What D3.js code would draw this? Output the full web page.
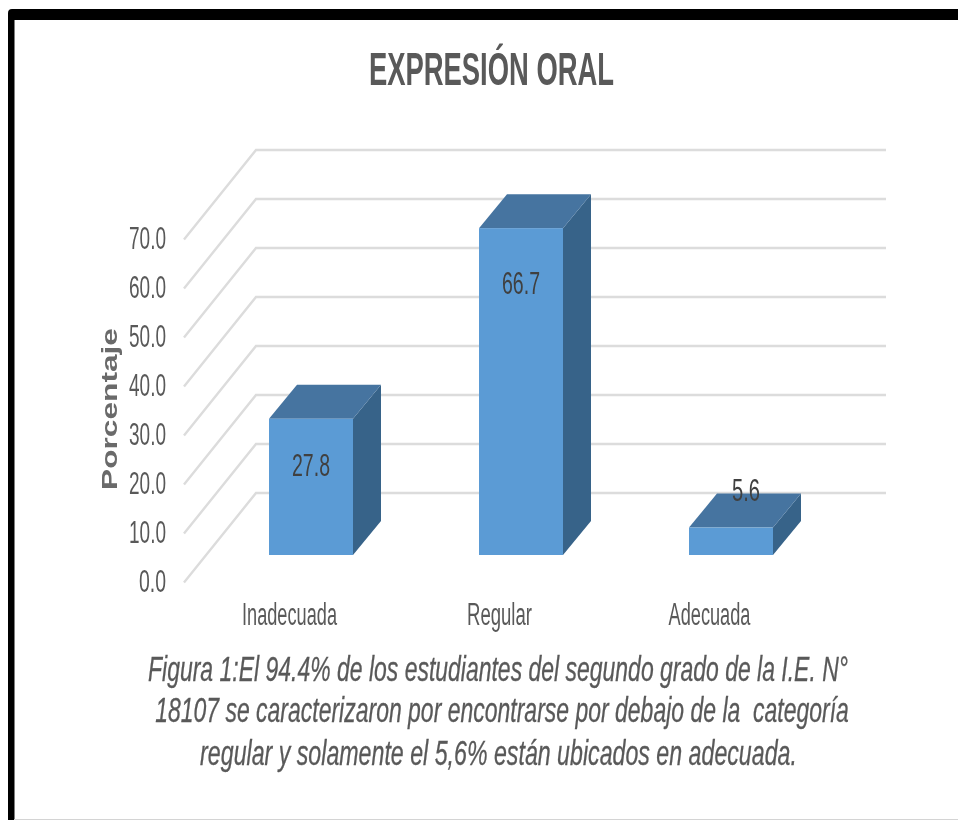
<!DOCTYPE html>
<html><head><meta charset="utf-8">
<script src="https://cdn.jsdelivr.net/npm/d3@7"></script>
<style>
html,body{margin:0;padding:0;background:#fff}
svg{display:block;filter:blur(0.5px)}
text{font-family:"Liberation Sans",Arial,sans-serif;fill:#595959}
</style></head><body>
<svg id="c" width="958" height="820"></svg>
<script>
const title = "EXPRESIÓN ORAL";
const yTitle = "Porcentaje";
const categories = ["Inadecuada", "Regular", "Adecuada"];
const values = [27.8, 66.7, 5.6];
const valueLabels = ["27.8", "66.7", "5.6"];
const yTicks = [0, 10, 20, 30, 40, 50, 60, 70];
const captionLines = [
  "Figura 1:El 94.4% de los estudiantes del segundo grado de la I.E. N°",
  "18107 se caracterizaron por encontrarse por debajo de la  categoría",
  "regular y solamente el 5,6% están ubicados en adecuada."
];
const catWidths = [95, 65, 82];
const captionWidths = [700, 694, 597];
const captionBaselines = [681, 722, 765];

const svg = d3.select("#c");
const yBack = d3.scaleLinear().domain([0, 70]).range([493, 150]);
const yFront = d3.scaleLinear().domain([0, 70]).range([582.5, 239.5]);
const x = d3.scaleBand().domain(categories).range([206, 836]).paddingInner(0.6).paddingOuter(0.3);
const wallDx = 72, barBase = 555, barDx = 28, barDy = 34;
const h = v => yBack(0) - yBack(v);

// frame
svg.append("path").attr("fill", "#000")
  .attr("d", "M8 820 V13 Q8 9 12 9 H958 V20 H14.5 V820 Z");
svg.append("line").attr("x1", 14).attr("x2", 958).attr("y1", 819.5).attr("y2", 819.5)
  .attr("stroke", "#d4d4d4").attr("stroke-width", 1);

// walls
svg.append("g").selectAll("path").data(yTicks).join("path")
  .attr("fill", "none").attr("stroke", "#dcdcdc").attr("stroke-width", 2.4)
  .attr("d", d => `M${256 - wallDx} ${yFront(d)} L256 ${yBack(d)} H886`);

// bars
const bars = svg.append("g").selectAll("g").data(categories).join("g");
const bw = x.bandwidth();
bars.append("path").attr("fill", "#376389")
  .attr("d", (c, i) => {
    const r = x(c) + bw, t = barBase - h(values[i]);
    return `M${r} ${t} L${r + barDx} ${t - barDy} V${barBase - barDy} L${r} ${barBase} Z`;
  });
bars.append("path").attr("fill", "#4674a0")
  .attr("d", (c, i) => {
    const l = x(c), t = barBase - h(values[i]);
    return `M${l} ${t} L${l + barDx} ${t - barDy} H${l + bw + barDx} L${l + bw} ${t} Z`;
  });
bars.append("rect").attr("fill", "#5b9bd5")
  .attr("x", c => x(c)).attr("width", bw)
  .attr("y", (c, i) => barBase - h(values[i])).attr("height", (c, i) => h(values[i]));

// value labels
const labelY = [476, 294, 501];
const labelW = [38, 38, 28];
svg.append("g").selectAll("text").data(valueLabels).join("text")
  .attr("x", (d, i) => x(categories[i]) + bw / 2 + (i === 2 ? 15 : 0))
  .attr("y", (d, i) => labelY[i])
  .attr("text-anchor", "middle").attr("font-size", 32).style("fill", "#404040")
  .attr("textLength", (d, i) => labelW[i]).attr("lengthAdjust", "spacingAndGlyphs")
  .text(d => d);

// y axis
const yAxis = svg.append("g").attr("transform", "translate(166,-1)")
  .call(d3.axisLeft(yFront).tickValues(yTicks).tickFormat(d3.format(".1f")).tickSize(0).tickPadding(0));
yAxis.select(".domain").remove();
yAxis.attr("font-family", null).attr("font-size", null);
yAxis.selectAll("text").attr("font-size", 32)
  .attr("textLength", d => d === 0 ? 27 : 37).attr("lengthAdjust", "spacingAndGlyphs");

// x axis
const xAxis = svg.append("g").attr("transform", "translate(-21.5,603)")
  .call(d3.axisBottom(x).tickSize(0).tickPadding(0));
xAxis.select(".domain").remove();
xAxis.attr("font-family", null).attr("font-size", null);
xAxis.selectAll("text").attr("font-size", 31)
  .attr("textLength", (d, i) => catWidths[i]).attr("lengthAdjust", "spacingAndGlyphs");

// y title
svg.append("text").attr("transform", "translate(117,409) rotate(-90)")
  .attr("text-anchor", "middle").attr("font-size", 22).attr("font-weight", 700)
  .style("fill", "#6a6a6a")
  .attr("textLength", 162).attr("lengthAdjust", "spacingAndGlyphs").text(yTitle);

// title
svg.append("text").attr("x", 491.5).attr("y", 85).attr("text-anchor", "middle")
  .attr("font-size", 46).attr("font-weight", 700)
  .attr("textLength", 245).attr("lengthAdjust", "spacingAndGlyphs").text(title);

// caption: drawn small and scaled so the box matches the stretched look
svg.append("g").selectAll("text").data(captionLines).join("text")
  .attr("text-anchor", "middle").attr("font-size", 22).attr("font-style", "italic")
  .style("white-space", "pre").style("stroke", "#595959").style("stroke-width", 0.2)
  .text(d => d)
  .attr("transform", function (d, i) {
    const sx = captionWidths[i] / this.getComputedTextLength();
    return `translate(${[498, 502, 498.5][i]},${captionBaselines[i]}) scale(${sx},1.6)`;
  });
</script>
</body></html>
